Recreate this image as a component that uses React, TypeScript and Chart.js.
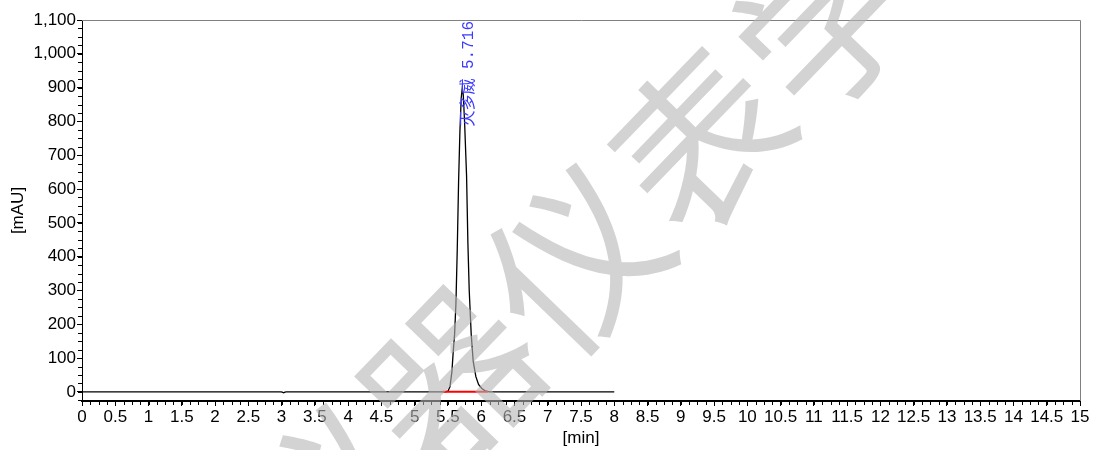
import React, { useEffect, useRef } from "react";
import { Chart, registerables } from "chart.js";

Chart.register(...registerables);

// Chromatogram trace (retention time in min, signal in mAU)
const times = [
  0, 1, 2, 2.99, 3.01, 3.03, 3.05, 3.07, 4, 5, 5.45, 5.5, 5.53, 5.56, 5.58, 5.6,
  5.62, 5.64, 5.66, 5.68, 5.7, 5.716, 5.73, 5.75, 5.78, 5.8, 5.82, 5.85, 5.88,
  5.92, 5.96, 6.01, 6.06, 6.12, 7, 8,
];
const signal = [
  0, 0, 0, 0, -1, -3, -1, 0, 0, 0, 0, 2, 15, 60, 120, 170, 260, 420, 620, 770,
  870, 900, 880, 800, 640, 440, 300, 170, 90, 45, 22, 10, 3, 0, 0, 0,
];

// Integration baseline (red)
const integrationTimes = [5.42, 6.1];
const integrationValues = [0, 0];

// Peak annotation
const peakName = "灭多威";
const peakTime = 5.716;
const peakHeight = 900;

// Axis ticks
const xTicks = [
  0, 0.5, 1, 1.5, 2, 2.5, 3, 3.5, 4, 4.5, 5, 5.5, 6, 6.5, 7, 7.5, 8, 8.5, 9,
  9.5, 10, 10.5, 11, 11.5, 12, 12.5, 13, 13.5, 14, 14.5, 15,
];
const yTicks = [0, 100, 200, 300, 400, 500, 600, 700, 800, 900, 1000, 1100];
const xTitle = "[min]";
const yTitle = "[mAU]";
const watermarkText = "仪器仪表学";

const FONT = "'Liberation Sans', Arial, sans-serif";

const decorPlugin = {
  id: "decor",
  afterDraw(chart: any) {
    const ctx = chart.ctx as CanvasRenderingContext2D;
    const { left, right, top, bottom } = chart.chartArea;
    const xs = chart.scales.x;
    const ys = chart.scales.y;
    ctx.save();

    // top & right frame
    ctx.strokeStyle = "#808080";
    ctx.lineWidth = 1;
    ctx.beginPath();
    ctx.moveTo(left, Math.round(top) + 0.5);
    ctx.lineTo(Math.round(right) + 0.5, Math.round(top) + 0.5);
    ctx.lineTo(Math.round(right) + 0.5, bottom);
    ctx.stroke();

    // minor ticks
    ctx.strokeStyle = "#000";
    ctx.lineWidth = 1;
    ctx.beginPath();
    for (let v = xs.min; v <= xs.max + 1e-9; v += 0.125) {
      const px = Math.round(xs.getPixelForValue(v)) + 0.5;
      ctx.moveTo(px, bottom);
      ctx.lineTo(px, bottom + 4);
    }
    for (let v = -25; v <= ys.max + 1e-9; v += 25) {
      const py = Math.round(ys.getPixelForValue(v)) + 0.5;
      ctx.moveTo(left - 4, py);
      ctx.lineTo(left, py);
    }
    ctx.stroke();

    // axis titles
    ctx.fillStyle = "#000";
    ctx.font = `17px ${FONT}`;
    ctx.textAlign = "center";
    ctx.textBaseline = "middle";
    ctx.fillText(xTitle, (left + right) / 2, 438);
    ctx.save();
    ctx.translate(18, (top + bottom) / 2);
    ctx.rotate(-Math.PI / 2);
    ctx.fillText(yTitle, 0, 0);
    ctx.restore();

    // peak label
    const lx = xs.getPixelForValue(peakTime) + 6.5;
    const ly = ys.getPixelForValue(peakHeight) + 39;
    ctx.save();
    ctx.translate(lx, ly);
    ctx.rotate(-Math.PI / 2);
    ctx.fillStyle = "#3b3bff";
    ctx.font = "16px 'Liberation Mono', 'Noto Sans CJK SC', monospace";
    ctx.textAlign = "left";
    ctx.textBaseline = "middle";
    ctx.fillText(`${peakName} ${peakTime.toFixed(3)}`, 0, 0);
    ctx.restore();

    // watermark
    ctx.fillStyle = "rgba(182,182,182,0.6)";
    ctx.font = "172px 'Noto Sans CJK SC', sans-serif";
    ctx.textAlign = "center";
    ctx.textBaseline = "middle";
    const chars = Array.from(watermarkText);
    const cx0 = 325;
    const cy0 = 500;
    const stepX = 125;
    const stepY = -120;
    const ang = (-46 * Math.PI) / 180;
    chars.forEach((ch, i) => {
      ctx.save();
      ctx.translate(cx0 + i * stepX, cy0 + i * stepY);
      ctx.rotate(ang);
      ctx.fillText(ch, 0, 0);
      ctx.restore();
    });

    ctx.restore();
  },
};

export default function App() {
  const ref = useRef<HTMLCanvasElement | null>(null);

  useEffect(() => {
    document.body.style.margin = "0";
    const canvas = ref.current;
    if (!canvas) return;
    const chart = new Chart(canvas, {
      type: "line",
      data: {
        datasets: [
          {
            data: integrationTimes.map((t, i) => ({ x: t, y: integrationValues[i] })),
            borderColor: "#ff0000",
            borderWidth: 2,
            pointRadius: 0,
            tension: 0,
            order: 0,
          },
          {
            data: times.map((t, i) => ({ x: t, y: signal[i] })),
            borderColor: "#000",
            borderWidth: 1.3,
            pointRadius: 0,
            tension: 0,
            order: 1,
          },
        ],
      },
      options: {
        responsive: false,
        animation: false,
        layout: { padding: { top: 20, right: 16, left: 0, bottom: 0 } },
        plugins: {
          legend: { display: false },
          tooltip: { enabled: false },
          title: { display: false },
        },
        scales: {
          x: {
            type: "linear",
            min: 0,
            max: 15,
            afterBuildTicks: (scale: any) => {
              scale.ticks = xTicks.map((v) => ({ value: v }));
            },
            afterFit: (scale: any) => {
              scale.height = 49;
            },
            ticks: {
              autoSkip: false,
              maxRotation: 0,
              padding: 1,
              color: "#000",
              font: { family: FONT, size: 17 },
              callback: (v: any) => String(v),
            },
            grid: {
              display: true,
              drawOnChartArea: false,
              drawTicks: true,
              tickLength: 5,
              color: "#000",
            },
            border: { display: true, color: "#000", width: 2 },
          },
          y: {
            type: "linear",
            min: -27,
            max: 1100,
            afterBuildTicks: (scale: any) => {
              scale.ticks = yTicks.map((v) => ({ value: v }));
            },
            afterFit: (scale: any) => {
              scale.width = 82;
            },
            ticks: {
              autoSkip: false,
              padding: 1,
              color: "#000",
              font: { family: FONT, size: 17 },
              callback: (v: any) => Number(v).toLocaleString("en-US"),
            },
            grid: {
              display: true,
              drawOnChartArea: false,
              drawTicks: true,
              tickLength: 5,
              color: "#000",
            },
            border: { display: true, color: "#000", width: 1 },
          },
        },
      },
      plugins: [decorPlugin],
    });
    return () => chart.destroy();
  }, []);

  return <canvas ref={ref} width={1096} height={450} style={{ display: "block" }} />;
}
